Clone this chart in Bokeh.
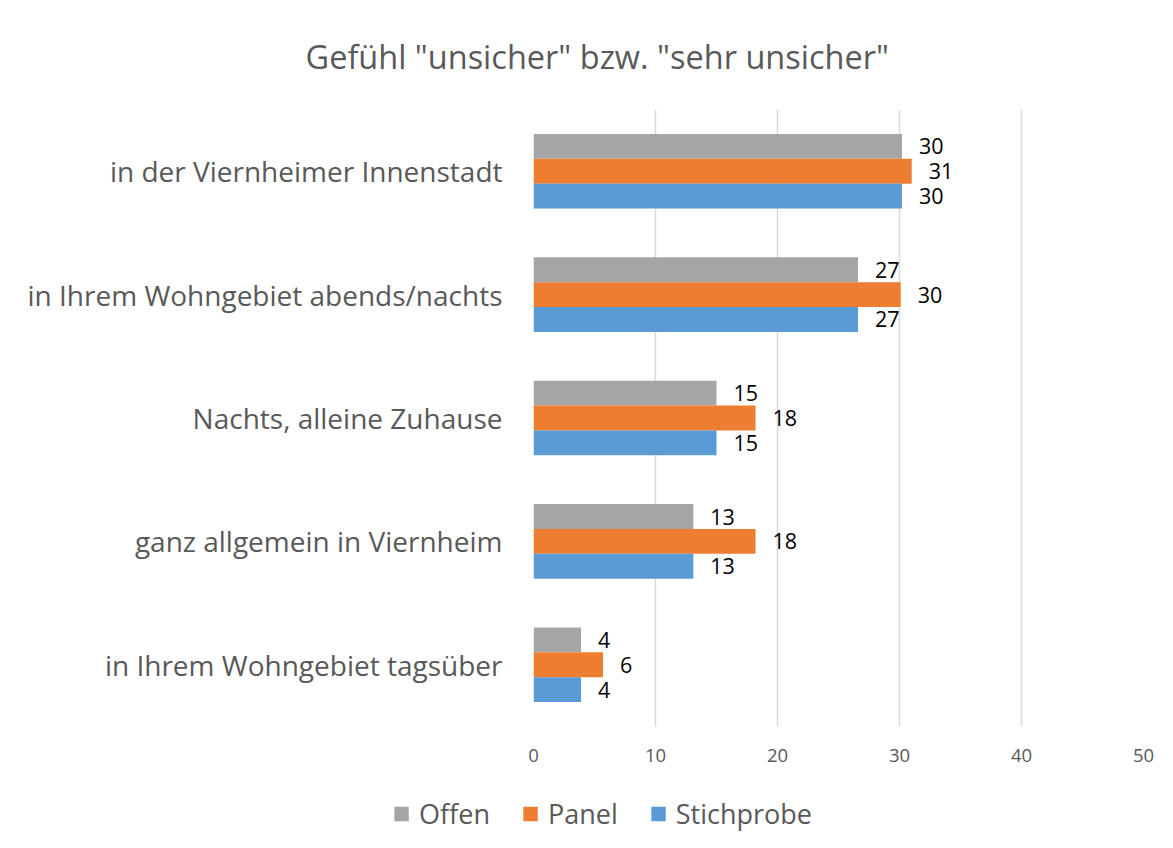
from bokeh.plotting import figure
from bokeh.models import FactorRange, Range1d, Legend, LegendItem, FixedTicker, ColumnDataSource
from bokeh.transform import dodge
from bokeh.embed import file_html
from bokeh.resources import INLINE
from bokeh.core.properties import value

title_text = 'Gefühl "unsicher" bzw. "sehr unsicher"'
categories = ["in der Viernheimer Innenstadt",
              "in Ihrem Wohngebiet abends/nachts",
              "Nachts, alleine Zuhause",
              "ganz allgemein in Viernheim",
              "in Ihrem Wohngebiet tagsüber"]
series = ["Offen", "Panel", "Stichprobe"]
offen = [30.2, 26.6, 15.0, 13.1, 3.9]
panel = [31.0, 30.1, 18.2, 18.2, 5.7]
stichprobe = [30.2, 26.6, 15.0, 13.1, 3.9]
colors = ["#A5A5A5", "#ED7D31", "#5B9BD5"]
x_ticks = [0, 10, 20, 30, 40, 50]

FONT = "Open Sans"
GREY = "#595959"

data = dict(cat=categories, Offen=offen, Panel=panel, Stichprobe=stichprobe)
for s in series:
    data[s + "_lbl"] = [str(int(round(v))) for v in data[s]]
src = ColumnDataSource(data)

p = figure(width=1165, height=786, output_backend="svg", toolbar_location=None,
           y_range=FactorRange(factors=list(reversed(categories)), range_padding=0),
           x_range=Range1d(0, 50),
           min_border_left=533, min_border_right=22, min_border_top=106, min_border_bottom=60)
p.outline_line_color = None
p.background_fill_color = "white"
p.border_fill_color = "white"

bar_h = 0.2016
offsets = {"Offen": bar_h, "Panel": 0.0, "Stichprobe": -bar_h}
for s, c in zip(series, colors):
    p.hbar(y=dodge("cat", offsets[s], range=p.y_range), left=0, right=s, height=bar_h,
           fill_color=c, line_color=None, source=src)
    p.text(x=s, y=dodge("cat", offsets[s], range=p.y_range), text=s + "_lbl", source=src,
           x_offset=17, text_align="left", text_baseline="middle",
           text_font=value(FONT), text_font_size="21.5px", text_color="black")

# axes
p.xaxis.ticker = FixedTicker(ticks=x_ticks)
p.xaxis.axis_line_color = None
p.xaxis.major_tick_line_color = None
p.xaxis.minor_tick_line_color = None
p.xaxis.major_label_text_font = FONT
p.xaxis.major_label_text_font_size = "18.5px"
p.xaxis.major_label_text_color = GREY
p.xaxis.major_label_standoff = 16

p.yaxis.axis_line_color = None
p.yaxis.major_tick_line_color = None
p.yaxis.minor_tick_line_color = None
p.yaxis.major_tick_out = 0
p.yaxis.major_label_text_font = FONT
p.yaxis.major_label_text_font_size = "28px"
p.yaxis.major_label_text_color = GREY
p.yaxis.major_label_standoff = 31

p.ygrid.grid_line_color = None
p.xgrid.grid_line_color = "#D9D9D9"
p.xgrid.grid_line_width = 1.5

# title
p.title.text = title_text
p.title.align = "left"
p.title.offset = -228
p.title.text_font = FONT
p.title.text_font_size = "32.5px"
p.title.text_font_style = "normal"
p.title.text_color = GREY
p.title.standoff = 62

# legend strip (separate root so it is not clipped by / aligned to the plot frame)
lg = figure(width=1165, height=54, output_backend="svg", toolbar_location=None,
            x_axis_type=None, y_axis_type=None,
            y_range=FactorRange(factors=list(reversed(categories))), x_range=Range1d(0, 50),
            min_border_left=39, min_border_right=0, min_border_top=0, min_border_bottom=0)
lg.outline_line_color = None
lg.xgrid.visible = False
lg.ygrid.visible = False
items = []
for s, c in zip(series, colors):
    # zero-width bars: only their legend swatch is visible
    r = lg.hbar(y="cat", left=s, right=s, height=bar_h, fill_color=c, line_color=None, source=src)
    items.append(LegendItem(label=s, renderers=[r]))
legend = Legend(items=items, orientation="horizontal", location="center",
                glyph_width=18, glyph_height=18, label_standoff=9, spacing=31,
                padding=0, margin=0, border_line_color=None, background_fill_alpha=0,
                label_text_font=FONT, label_text_font_size="27px", label_text_color=GREY)
lg.add_layout(legend, "center")

open("out.html", "w").write(file_html([p, lg], INLINE))
